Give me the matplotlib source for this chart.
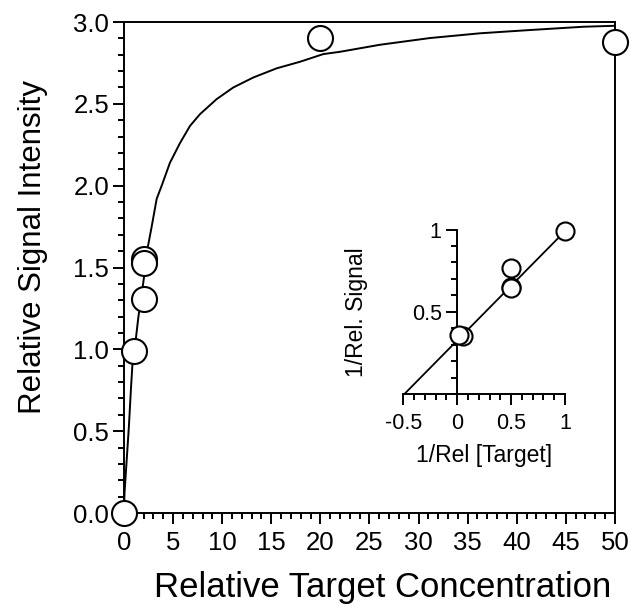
import matplotlib
matplotlib.use("Agg")
import matplotlib.pyplot as plt
from matplotlib.ticker import MultipleLocator, FixedLocator

plt.rcParams['font.family'] = ['Liberation Sans', 'DejaVu Sans']
plt.rcParams['axes.unicode_minus'] = False

# main panel: measured points
conc = [0, 1, 2, 2, 2, 20, 50]
signal = [0.0, 0.99, 1.55, 1.53, 1.31, 2.90, 2.88]

# fitted saturation curve
curve_x = [0, 0.05, 0.27, 0.5, 0.7, 0.85, 1.0, 1.2, 1.45, 1.7, 1.97, 2.2, 2.41, 2.82,
           3.33, 3.84, 4.68, 5.7, 6.72, 7.74, 9.44, 11.13, 13.17, 15.55, 17.92, 20.3,
           22.0, 26.07, 31.16, 36.25, 41.34, 46.77, 50]
curve_y = [0, 0.12, 0.32, 0.53, 0.75, 0.9, 0.98, 1.06, 1.19, 1.3, 1.41, 1.52, 1.62, 1.75,
           1.92, 2.0, 2.14, 2.26, 2.365, 2.437, 2.529, 2.6, 2.661, 2.717, 2.757, 2.804,
           2.818, 2.861, 2.902, 2.931, 2.951, 2.971, 2.977]

# inset: double reciprocal plot
inv_conc = [1.0, 0.5, 0.5, 0.5, 0.05, 0.02]
inv_signal = [0.99, 0.763, 0.652, 0.645, 0.35, 0.36]
fit_x = [-0.49, 1.0]
fit_y = [0.0, 0.99]

fig = plt.figure(figsize=(6.31, 6.08), dpi=100)
ax = fig.add_axes([0.1965, 0.1562, 0.778, 0.8076])

ax.plot(curve_x, curve_y, color='black', lw=1.4, zorder=2)
ax.plot(conc, signal, 'o', ms=18, mfc='white', mec='black', mew=1.5,
        clip_on=False, zorder=3)

ax.set_xlim(0, 50)
ax.set_ylim(0, 3.0)
ax.xaxis.set_major_locator(MultipleLocator(5))
ax.xaxis.set_minor_locator(MultipleLocator(1))
ax.yaxis.set_major_locator(MultipleLocator(0.5))
ax.yaxis.set_minor_locator(MultipleLocator(0.1))
ax.yaxis.set_major_formatter('{x:.1f}')
ax.tick_params(which='both', direction='out', width=1.4, labelsize=18.5)
ax.tick_params(axis='x', pad=5.5)
ax.tick_params(axis='y', pad=3)
ax.tick_params(which='major', length=7.7)
ax.tick_params(which='minor', length=4.3)
for s in ax.spines.values():
    s.set_linewidth(1.4)
ax.set_xlabel('Relative Target Concentration', fontsize=25)
ax.xaxis.set_label_coords(0.527, -0.119)
ax.set_ylabel('Relative Signal Intensity', fontsize=22.5)
ax.yaxis.set_label_coords(-0.155, 0.541)

# inset
ins = fig.add_axes([0.6392, 0.352, 0.2562, 0.2705])
ins.plot(fit_x, fit_y, color='black', lw=1.3, zorder=2)
ins.plot(inv_conc, inv_signal, 'o', ms=13, mfc='white', mec='black', mew=1.5,
         clip_on=False, zorder=3)
ins.set_xlim(-0.5, 1.0)
ins.set_ylim(0, 1.0)
ins.spines['left'].set_position(('data', 0))
ins.spines['top'].set_visible(False)
ins.spines['right'].set_visible(False)
for s in ['left', 'bottom']:
    ins.spines[s].set_linewidth(1.4)
ins.patch.set_alpha(0)
ins.xaxis.set_major_locator(FixedLocator([-0.5, 0, 0.5, 1]))
ins.xaxis.set_minor_locator(MultipleLocator(0.1))
ins.yaxis.set_major_locator(FixedLocator([0.5, 1]))
ins.yaxis.set_minor_locator(MultipleLocator(0.1))
ins.set_xticklabels(['-0.5', '0', '0.5', '1'])
ins.set_yticklabels(['0.5', '1'])
ins.tick_params(which='both', direction='out', width=1.4, labelsize=15.5)
ins.tick_params(axis='x', pad=6)
ins.tick_params(axis='y', pad=3.5)
ins.tick_params(which='major', length=7.7)
ins.tick_params(which='minor', length=4.3)
ins.set_xlabel('1/Rel [Target]', fontsize=16.5, labelpad=7)
ins.set_ylabel('1/Rel. Signal', fontsize=16.5)
ins.yaxis.set_label_coords(-0.22, 0.5)

fig.savefig('out.png', dpi=100)
